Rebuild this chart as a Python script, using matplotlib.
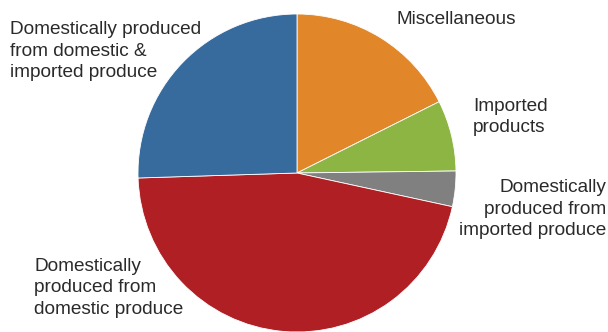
import matplotlib.pyplot as plt

plt.rcParams["font.family"] = ["Liberation Sans", "DejaVu Sans"]

# Shares of the total, clockwise from 12 o'clock
categories = [
    "Miscellaneous",
    "Imported\nproducts",
    "Domestically\nproduced from\nimported produce",
    "Domestically\nproduced from\ndomestic produce",
    "Domestically produced\nfrom domestic &\nimported produce",
]
shares = [17.6, 7.2, 3.6, 46.1, 25.5]
colors = ["#e2862a", "#8db543", "#808080", "#b01f24", "#386b9d"]

W, H = 608, 332
CX, CY, R = 297, 173, 159  # pie centre and radius in pixels

fig = plt.figure(figsize=(W / 100, H / 100), dpi=100)
ax = fig.add_axes([0, 0, 1, 1])
ax.pie(shares, colors=colors, startangle=90, counterclock=False, radius=1,
       wedgeprops={"edgecolor": "white", "linewidth": 0.6})
ax.set_xlim(-CX / R, (W - CX) / R)
ax.set_ylim(-(H - CY) / R, CY / R)
ax.set_aspect("equal")
ax.axis("off")

# Label anchors: (x, y in pixels from top-left, horizontal alignment)
label_pos = [
    (397, 20, "left"),
    (473, 117, "left"),
    (606, 209, "right"),
    (34, 288, "left"),
    (10, 51, "left"),
]
for text, (x, y, ha) in zip(categories, label_pos):
    fig.text(x / W, 1 - y / H, text, ha=ha, va="center", multialignment=ha,
             fontsize=13.7, color="#2a2a2a", linespacing=1.38)

plt.savefig("out.png", dpi=100)
